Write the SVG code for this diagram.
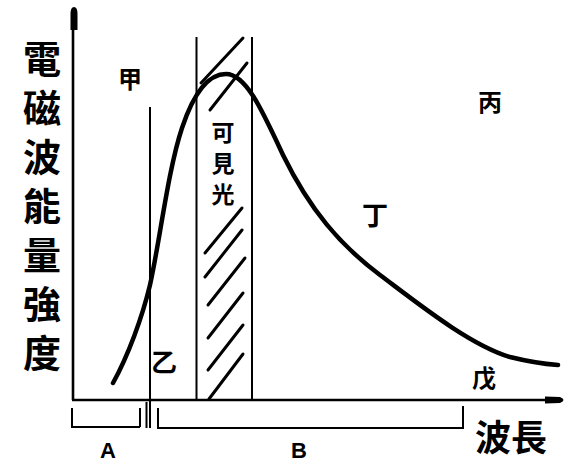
<svg xmlns="http://www.w3.org/2000/svg" width="571" height="461" viewBox="0 0 571 461">
<style>
.ln{stroke:#000;fill:none;stroke-width:2}
.ax{stroke:#000;fill:none;stroke-width:2.6}
.h{stroke:#000;fill:none;stroke-width:3;stroke-linecap:round}
.cj{font-family:"Noto Sans CJK TC","Noto Sans CJK SC",sans-serif;font-weight:bold;fill:#000;text-anchor:middle;dominant-baseline:central}
.vt{font-family:"Noto Sans CJK TC","Noto Sans CJK SC",sans-serif;font-weight:bold;fill:#000;writing-mode:vertical-rl;text-anchor:start}
.lt{font-family:"Liberation Sans",Arial,sans-serif;font-weight:bold;fill:#000;text-anchor:middle;dominant-baseline:central}
</style>
<rect width="571" height="461" fill="#fff"/>
<g id="axes">
<line class="ax" x1="73" y1="400" x2="73" y2="20"/>
<path d="M70.5,30 L70.5,14 Q70.5,7 74,7 Q77.5,7 77.5,14 L77.5,30 Z" fill="#000"/>
<line class="ax" x1="72" y1="400" x2="555" y2="400"/>
<path d="M545,396.5 L560,397 Q567,400 560,403 L545,403.5 Z" fill="#000"/>
</g>
<g id="visible-band">
<line class="ln" x1="196.5" y1="37" x2="196.5" y2="400"/>
<line class="ln" x1="252" y1="37" x2="252" y2="400"/>
<line class="h" x1="201" y1="83" x2="243" y2="38"/>
<line class="h" x1="210" y1="110" x2="247" y2="63"/>
<line class="h" x1="205" y1="253" x2="242" y2="208"/>
<line class="h" x1="205" y1="277" x2="242" y2="230"/>
<line class="h" x1="208" y1="305" x2="245" y2="258"/>
<line class="h" x1="208" y1="338" x2="243" y2="293"/>
<line class="h" x1="208" y1="370" x2="243" y2="325"/>
<line class="h" x1="209" y1="399" x2="243" y2="354"/>
<text class="vt" x="223" y="121" font-size="23" letter-spacing="8">可見光</text>
</g>
<g id="divider">
<line class="ln" x1="150" y1="107" x2="150" y2="428"/>
<line class="ln" x1="146.5" y1="402" x2="146.5" y2="428"/>
</g>
<g id="connectors">
<path d="M113,383 C128,356 142,318 150,285 C160,240 168,170 182,128 C192,98 206,74 226,74 C246,74 262,110 283,155 C310,210 340,245 380,275 C420,305 470,345 510,357 C530,362 545,364 558,365" fill="none" stroke="#000" stroke-width="4.5" stroke-linecap="round"/>
</g>
<g id="bracket-A">
<path class="ln" d="M72,408 L72,427 L140,427 M140,408 L140,427"/>
<text class="lt" x="108" y="450" font-size="22">A</text>
</g>
<g id="bracket-B">
<path class="ln" d="M158,408 L158,428 L463,428 L463,406"/>
<text class="lt" x="299" y="450" font-size="22">B</text>
</g>
<g id="labels">
<text class="cj" x="130" y="77" font-size="24">甲</text>
<text class="cj" x="164" y="360" font-size="26">乙</text>
<text class="cj" x="490" y="100" font-size="24">丙</text>
<text class="cj" x="375" y="213" font-size="26">丁</text>
<text class="cj" x="484" y="376" font-size="24">戊</text>
<text class="cj" x="511" y="435" font-size="36">波長</text>
</g>
<g id="y-label">
<text class="vt" x="42" y="40" font-size="38" letter-spacing="11">電磁波能量強度</text>
</g>
</svg>
